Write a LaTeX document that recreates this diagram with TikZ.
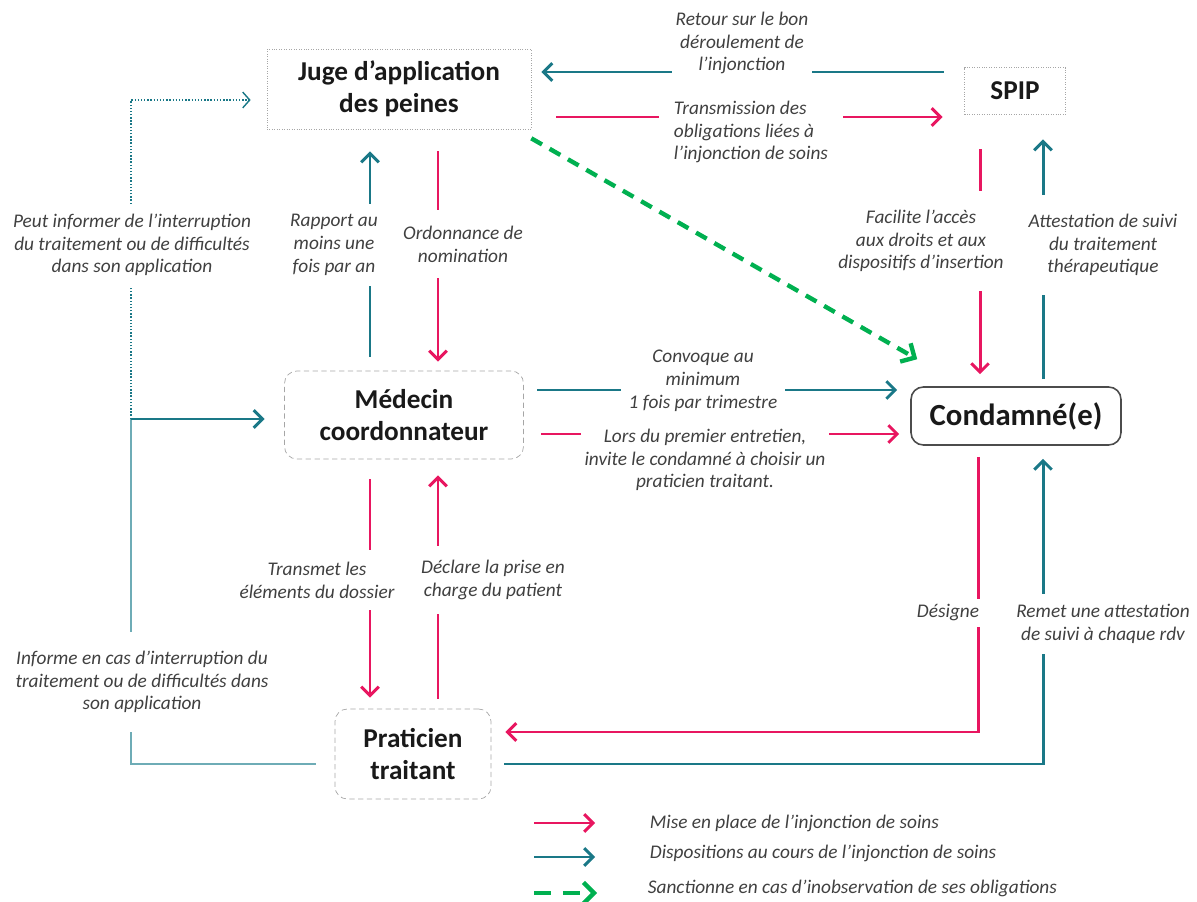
\documentclass[tikz,border=0pt]{standalone}
\usepackage{fontspec}
\setmainfont{Carlito}
\usetikzlibrary{arrows.meta,calc}
\definecolor{rose}{RGB}{232,22,96}
\definecolor{sarcelle}{RGB}{26,120,135}
\definecolor{sarclair}{RGB}{110,172,182}
\definecolor{vert}{RGB}{0,176,80}
\definecolor{texte}{RGB}{64,64,64}
\begin{document}
\begin{tikzpicture}[x=0.02cm, y=-0.02cm,
    fl/.style={line width=1.7pt, -{Straight Barb[length=5pt,width=10pt]}},
    fr/.style={fl, rose},
    fs/.style={fl, sarcelle},
    fv/.style={line width=2.5pt, vert, dash pattern=on 7pt off 5pt, -{Straight Barb[length=6pt,width=12pt]}},
    acteur/.style={font=\bfseries\fontsize{15.5}{18}\selectfont, text=black!90, align=center, inner sep=2pt},
    cadre/.style={acteur, draw=gray!70, densely dotted, thin},
    arrondi/.style={acteur, draw=gray!70, densely dashed, thin, rounded corners=7pt},
    leg/.style={font=\itshape\fontsize{11}{13}\selectfont, text=texte, align=center, inner sep=2pt},
    lbl/.style={leg, fill=white}]
    \useasboundingbox (0,0) rectangle (1197,902);
    \node[cadre, minimum width=5.28cm, minimum height=1.6cm] (juge) at (399,89) {Juge d’application\\des peines};
    \node[cadre, minimum width=2.02cm, minimum height=0.94cm] (spip) at (1015,91) {SPIP};
    \node[arrondi, minimum width=4.78cm, minimum height=1.76cm] (medecin) at (404,415) {Médecin\\coordonnateur};
    \node[acteur, draw=black!70, line width=0.9pt, rounded corners=7pt, minimum width=4.2cm, minimum height=1.16cm, font=\bfseries\fontsize{17.5}{20}\selectfont] (condamne) at (1016,416) {Condamné(e)};
    \node[arrondi, minimum width=3.12cm, minimum height=1.8cm] (praticien) at (413,754) {Praticien\\traitant};

    \draw[fs] ($(spip.west)+(-20.5,-19)$) -- ($(juge.east)+(10,-17)$);
    \draw[fr] ($(juge.east)+(25,28)$) -- ($(spip.west)+(-21.5,26)$);
    \draw[fv] ($(juge.south east)+(0,9)$) -- ($(condamne.north west)+(7,-27)$);
    \draw[fs] ($(medecin.north)+(-34,-14)$) -- ($(juge.south)+(-29,22)$);
    \draw[fr] ($(juge.south)+(39,22)$) -- ($(medecin.north)+(34,-9)$);
    \draw[fr] ($(spip.south)+(-35,34.5)$) -- ($(condamne.north)+(-36,-12)$);
    \draw[fs] ($(condamne.north)+(27,-7)$) -- ($(spip.south)+(28,24.5)$);
    \draw[fs] ($(medecin.east)+(13.5,-25)$) -- ($(condamne.west)+(-13,-26)$);
    \draw[fr] ($(medecin.east)+(17.5,19)$) -- ($(condamne.west)+(-11,18)$);
    \draw[fr] ($(medecin.south)+(-34,20)$) -- ($(praticien.north)+(-43,-11)$);
    \draw[fr] ($(praticien.north)+(25,-10)$) -- ($(medecin.south)+(34,16)$);
    \draw[fr] ($(condamne.south)+(-38,11)$) |- ($(praticien.east)+(14,-22)$);
    \draw[fs] ($(praticien.east)+(13,10)$) -| ($(condamne.south)+(27,13)$);

    \coordinate (relais) at (131,419);
    \draw[sarclair, line width=1.1pt] ($(praticien.west)+(-19,10)$) -| (relais);
    \draw[fs] (relais) -- ($(medecin.west)+(-19.5,4)$);
    \draw[sarcelle, densely dotted, line width=0.8pt, -{Straight Barb[length=4pt,width=9pt]}] (relais) |- ($(juge.west)+(-16,11)$);

    \node[lbl] (retour) at (742,43) {Retour sur le bon\\déroulement de\\l’injonction};
    \node[lbl, align=left, inner xsep=0.3cm] (transmission) at (751,132) {Transmission des\\obligations liées à\\l’injonction de soins};
    \node[lbl, inner ysep=0.2cm] (peut) at (132,245) {Peut informer de l’interruption\\du traitement ou de difficultés\\dans son application};
    \node[lbl, inner ysep=0.2cm] (rapport) at (334,245) {Rapport au\\moins une\\fois par an};
    \node[lbl, inner ysep=0.32cm] (ordonnance) at (463,244) {Ordonnance de\\nomination};
    \node[lbl, inner ysep=0.38cm] (facilite) at (921,241) {Facilite l’accès\\aux droits et aux\\dispositifs d’insertion};
    \node[lbl, inner ysep=0.38cm] (attestation) at (1103,245) {Attestation de suivi\\du traitement\\thérapeutique};
    \node[lbl, inner xsep=0.15cm] (convoque) at (703,381) {Convoque au\\minimum\\1 fois par trimestre};
    \node[lbl] (lors) at (705,460) {Lors du premier entretien,\\invite le condamné à choisir un\\praticien traitant.};
    \node[lbl, inner ysep=0.24cm] (transmet) at (317,580) {Transmet les\\éléments du dossier};
    \node[lbl, inner ysep=0.28cm] (declare) at (493,580) {Déclare la prise en\\charge du patient};
    \node[lbl, inner ysep=0.12cm, anchor=east] (designe) at (983,613) {Désigne};
    \node[lbl, inner ysep=0.2cm] (remet) at (1103,624) {Remet une attestation\\de suivi à chaque rdv};
    \node[lbl, inner ysep=0.38cm] (informe) at (142,682) {Informe en cas d’interruption du\\traitement ou de difficultés dans\\son application};

    \node[leg, anchor=west] (leg1) at (646,823) {Mise en place de l’injonction de soins};
    \node[leg, anchor=west] (leg2) at (646,853) {Dispositions au cours de l’injonction de soins};
    \node[leg, anchor=west] (leg3) at (644,888) {Sanctionne en cas d’inobservation de ses obligations};
    \draw[fr] ($(leg1.west)+(-112,0)$) -- ($(leg1.west)+(-51,0)$);
    \draw[fs] ($(leg2.west)+(-112,4)$) -- ($(leg2.west)+(-51,4)$);
    \draw[fv, dash pattern=on 9.5pt off 7pt] ($(leg3.west)+(-110,5)$) -- ($(leg3.west)+(-47,5)$);
\end{tikzpicture}
\end{document}
